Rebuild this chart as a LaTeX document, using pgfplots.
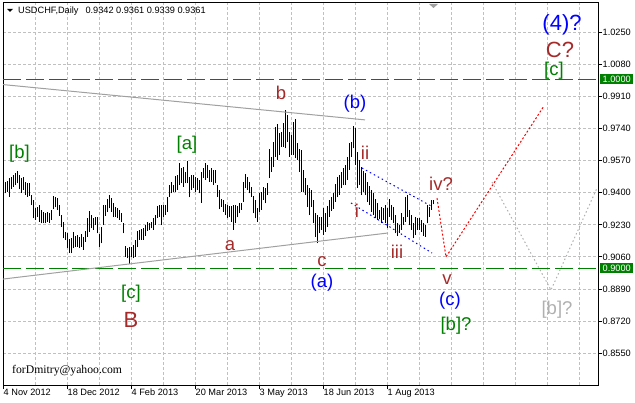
\documentclass[border=0pt]{standalone}
\usepackage{fontspec}
\setmainfont{Liberation Sans}
\newfontfamily\mailfont{Liberation Serif}
\usepackage{pgfplots}
\usepackage{pgfplotstable}
\pgfplotsset{compat=1.18}

\definecolor{mtgreen}{RGB}{0,128,0}
\definecolor{mtbrown}{RGB}{165,42,42}
\definecolor{mtblue}{RGB}{0,0,255}
\definecolor{gridgray}{RGB}{192,192,192}
\definecolor{trendgray}{RGB}{160,160,160}
\definecolor{lblgray}{RGB}{176,176,176}

\newcommand\tickfont{\fontsize{9.2bp}{11bp}\selectfont}
\newcommand\wfont{\fontsize{18.5bp}{20bp}\selectfont}
\newcommand\bigfont{\fontsize{22bp}{24bp}\selectfont}

% daily bars: index, low, high
\pgfplotstableread{
i lo hi
0 0.9397 0.9459
1 0.9406 0.9464
2 0.9379 0.9477
3 0.9418 0.9485
4 0.9432 0.9494
5 0.9441 0.9503
6 0.9450 0.9515
7 0.9418 0.9494
8 0.9401 0.9477
9 0.9415 0.9485
10 0.9388 0.9459
11 0.9379 0.9454
12 0.9383 0.9454
13 0.9335 0.9388
14 0.9265 0.9362
15 0.9256 0.9318
16 0.9274 0.9327
17 0.9247 0.9335
18 0.9238 0.9309
19 0.9238 0.9300
20 0.9238 0.9291
21 0.9247 0.9300
22 0.9238 0.9291
23 0.9256 0.9309
24 0.9312 0.9383
25 0.9323 0.9376
26 0.9309 0.9371
27 0.9277 0.9335
28 0.9221 0.9282
29 0.9159 0.9247
30 0.9150 0.9194
31 0.9106 0.9185
32 0.9083 0.9153
33 0.9079 0.9159
34 0.9106 0.9194
35 0.9115 0.9171
36 0.9115 0.9176
37 0.9106 0.9168
38 0.9115 0.9182
39 0.9097 0.9168
40 0.9141 0.9199
41 0.9168 0.9265
42 0.9194 0.9305
43 0.9212 0.9282
44 0.9203 0.9265
45 0.9229 0.9270
46 0.9185 0.9274
47 0.9115 0.9182
48 0.9132 0.9221
49 0.9229 0.9335
50 0.9277 0.9335
51 0.9300 0.9365
52 0.9318 0.9388
53 0.9300 0.9371
54 0.9270 0.9344
55 0.9274 0.9327
56 0.9265 0.9318
57 0.9256 0.9309
58 0.9247 0.9291
59 0.9185 0.9238
60 0.9062 0.9118
61 0.9053 0.9106
62 0.9021 0.9115
63 0.9062 0.9115
64 0.9053 0.9124
65 0.9062 0.9150
66 0.9111 0.9199
67 0.9150 0.9203
68 0.9150 0.9206
69 0.9150 0.9212
70 0.9171 0.9229
71 0.9199 0.9247
72 0.9203 0.9238
73 0.9212 0.9247
74 0.9203 0.9265
75 0.9229 0.9282
76 0.9265 0.9330
77 0.9274 0.9335
78 0.9229 0.9335
79 0.9274 0.9335
80 0.9282 0.9335
81 0.9300 0.9376
82 0.9379 0.9441
83 0.9397 0.9459
84 0.9406 0.9441
85 0.9406 0.9489
86 0.9415 0.9494
87 0.9441 0.9556
88 0.9450 0.9530
89 0.9432 0.9538
90 0.9450 0.9512
91 0.9450 0.9568
92 0.9376 0.9485
93 0.9415 0.9494
94 0.9424 0.9494
95 0.9406 0.9485
96 0.9415 0.9477
97 0.9397 0.9468
98 0.9348 0.9512
99 0.9477 0.9530
100 0.9468 0.9556
101 0.9477 0.9547
102 0.9459 0.9521
103 0.9459 0.9530
104 0.9441 0.9521
105 0.9450 0.9521
106 0.9379 0.9441
107 0.9312 0.9415
108 0.9326 0.9365
109 0.9300 0.9362
110 0.9282 0.9341
111 0.9265 0.9335
112 0.9274 0.9330
113 0.9247 0.9330
114 0.9203 0.9335
115 0.9238 0.9335
116 0.9270 0.9330
117 0.9291 0.9344
118 0.9309 0.9348
119 0.9353 0.9459
120 0.9424 0.9499
121 0.9415 0.9482
122 0.9397 0.9459
123 0.9379 0.9429
124 0.9291 0.9383
125 0.9265 0.9362
126 0.9247 0.9318
127 0.9300 0.9397
128 0.9309 0.9406
129 0.9362 0.9432
130 0.9344 0.9424
131 0.9388 0.9450
132 0.9477 0.9630
133 0.9512 0.9591
134 0.9538 0.9671
135 0.9591 0.9750
136 0.9574 0.9764
137 0.9600 0.9715
138 0.9644 0.9724
139 0.9644 0.9768
140 0.9635 0.9838
141 0.9671 0.9812
142 0.9591 0.9724
143 0.9600 0.9706
144 0.9600 0.9777
145 0.9582 0.9789
146 0.9574 0.9662
147 0.9512 0.9630
148 0.9406 0.9627
149 0.9406 0.9521
150 0.9388 0.9477
151 0.9326 0.9441
152 0.9282 0.9424
153 0.9326 0.9415
154 0.9238 0.9362
155 0.9168 0.9291
156 0.9132 0.9282
157 0.9185 0.9274
158 0.9203 0.9270
159 0.9176 0.9318
160 0.9194 0.9291
161 0.9221 0.9330
162 0.9274 0.9362
163 0.9305 0.9377
164 0.9313 0.9399
165 0.9353 0.9447
166 0.9376 0.9485
167 0.9388 0.9494
168 0.9424 0.9512
169 0.9441 0.9530
170 0.9441 0.9547
171 0.9468 0.9591
172 0.9521 0.9665
173 0.9591 0.9671
174 0.9635 0.9754
175 0.9547 0.9741
176 0.9424 0.9618
177 0.9441 0.9574
178 0.9388 0.9535
179 0.9406 0.9517
180 0.9388 0.9503
181 0.9353 0.9459
182 0.9335 0.9436
183 0.9300 0.9415
184 0.9282 0.9397
185 0.9265 0.9365
186 0.9256 0.9344
187 0.9259 0.9309
188 0.9238 0.9327
189 0.9256 0.9318
190 0.9238 0.9335
191 0.9212 0.9318
192 0.9274 0.9365
193 0.9256 0.9335
194 0.9238 0.9327
195 0.9185 0.9282
196 0.9171 0.9238
197 0.9189 0.9229
198 0.9203 0.9291
199 0.9229 0.9274
200 0.9247 0.9376
201 0.9274 0.9388
202 0.9229 0.9309
203 0.9203 0.9282
204 0.9159 0.9238
205 0.9176 0.9274
206 0.9203 0.9265
207 0.9203 0.9265
208 0.9194 0.9256
209 0.9171 0.9242
210 0.9168 0.9229
211 0.9238 0.9335
212 0.9274 0.9327
213 0.9309 0.9362
214 0.9339 0.9361
}\bars

\begin{document}
\begin{tikzpicture}
\path[use as bounding box] (-3bp,-18bp) rectangle (632bp,385bp);
\begin{axis}[
    at={(0,0)}, anchor=south west,
    scale only axis, width=595bp, height=382bp,
    xmin=-1, xmax=296.5, ymin=0.8382, ymax=1.0405,
    clip=false,
    axis line style={black, line width=1bp},
    xtick={-1,31,63,95,127,159,191},
    xticklabels={4 Nov 2012,18 Dec 2012,4 Feb 2013,20 Mar 2013,3 May 2013,18 Jun 2013,1 Aug 2013},
    minor xtick={15,31,...,287},
    ytick={0.855,0.872,0.889,0.906,0.923,0.940,0.957,0.974,0.991,1.008,1.025},
    xminorgrids=true, ymajorgrids=true,
    grid style={gridgray, line width=1bp, dash pattern=on 3bp off 2bp},
    minor grid style={gridgray, line width=1bp, dash pattern=on 3bp off 2bp},
    tick align=outside, major tick length=4bp, minor tick length=0pt,
    xtick pos=bottom, ytick pos=right, yticklabel pos=right,
    tick style={black, line width=1bp},
    xticklabel style={anchor=north west, inner sep=0pt, xshift=0.5bp, font=\tickfont},
    yticklabel style={anchor=west, inner sep=0pt, xshift=0.5bp, font=\tickfont,
        /pgf/number format/.cd, fixed, fixed zerofill, precision=4, assume math mode=true},
]
% bars (low to high)
\addplot[draw=none, no markers, forget plot,
    error bars/.cd, y dir=plus, y explicit, error mark=none,
    error bar style={draw=black, solid, line width=1bp}]
    table[x=i, y=lo, y error expr=\thisrow{hi}-\thisrow{lo}] {\bars};

% horizontal levels
\addplot[mtgreen, line width=1.2bp, dash pattern=on 18bp off 5bp] coordinates {(-1,1.0) (296.5,1.0)};
\addplot[mtgreen, line width=1.2bp, dash pattern=on 18bp off 5bp] coordinates {(-1,0.9) (296.5,0.9)};

% triangle lines
\addplot[trendgray, line width=1bp] coordinates {(-1,0.9973) (180,0.9786)};
\addplot[trendgray, line width=1bp] coordinates {(-1,0.8943) (191.5,0.9187)};

% channel
\addplot[mtblue, line width=1bp, dash pattern=on 1.5bp off 3bp] coordinates {(178.5,0.9531) (213,0.9330)};
\addplot[mtblue, line width=1bp, dash pattern=on 1.5bp off 3bp] coordinates {(173,0.9346) (213.5,0.9081)};

% projections
\addplot[red, line width=1bp, dash pattern=on 2bp off 2bp] coordinates {(216,0.9372) (220.5,0.9060) (269.5,0.9860)};
\addplot[lblgray, line width=1bp, dash pattern=on 1.5bp off 2.5bp] coordinates {(243.5,0.9457) (273,0.8885) (296,0.9425)};

% price boxes
\node[fill=mtgreen, text=white, font=\tickfont, inner sep=0pt, minimum width=33bp, minimum height=10bp, anchor=west, xshift=2bp] at (axis cs:296.5,1.0) {1.0000};
\node[fill=mtgreen, text=white, font=\tickfont, inner sep=0pt, minimum width=33bp, minimum height=10bp, anchor=west, xshift=2bp] at (axis cs:296.5,0.9) {0.9000};

% wave labels
\begin{scope}[every node/.style={inner sep=0pt, font=\wfont}]
\node[text=mtgreen] at (axis cs:7.25,0.9605) {[b]};
\node[text=mtgreen] at (axis cs:91,0.9656) {[a]};
\node[text=mtbrown] at (axis cs:138,0.9929) {b};
\node[text=mtblue] at (axis cs:175,0.9870) {(b)};
\node[text=mtbrown] at (axis cs:180,0.9611) {ii};
\node[text=mtbrown] at (axis cs:218,0.9447) {iv?};
\node[text=mtbrown] at (axis cs:176,0.9304) {i};
\node[text=mtbrown] at (axis cs:196,0.9086) {iii};
\node[text=mtbrown] at (axis cs:221,0.8938) {v};
\node[text=mtblue] at (axis cs:222.5,0.8827) {(c)};
\node[text=mtgreen] at (axis cs:225.5,0.8694) {[b]?};
\node[text=lblgray] at (axis cs:276,0.8779) {[b]?};
\node[text=mtblue] at (axis cs:158.5,0.8922) {(a)};
\node[text=mtbrown] at (axis cs:158.5,0.9033) {c};
\node[text=mtbrown] at (axis cs:112.5,0.9118) {a};
\node[text=mtgreen] at (axis cs:63,0.8864) {[c]};
\node[text=mtgreen] at (axis cs:274.5,1.0046) {[c]};
\node[text=mtbrown, font=\bigfont] at (axis cs:63,0.8726) {B};
\node[text=mtblue, font=\bigfont] at (axis cs:278.5,1.0292) {(4)?};
\node[text=mtbrown, font=\bigfont] at (axis cs:277.5,1.0156) {C?};
\end{scope}
\node[anchor=base west, inner sep=0pt, font=\mailfont\fontsize{11.7bp}{13bp}\selectfont] at (axis cs:3.5,0.8445) {forDmitry@yahoo.com};
\end{axis}
% chart header
\fill[black] (4bp,376bp) -- (10bp,376bp) -- (7bp,373bp) -- cycle;
\node[anchor=base west, inner sep=0pt, font=\tickfont] at (15bp,371bp) {USDCHF,Daily\hspace{7bp}0.9342 0.9361 0.9339 0.9361};
\fill[trendgray] (426bp,381bp) -- (435bp,381bp) -- (430.5bp,377bp) -- cycle;
\end{tikzpicture}
\end{document}
